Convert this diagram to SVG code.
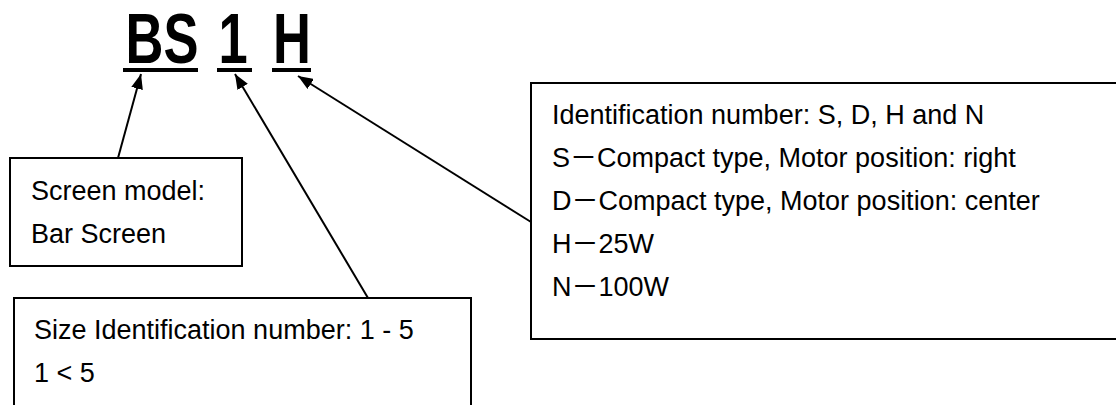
<svg xmlns="http://www.w3.org/2000/svg" width="1116" height="405" viewBox="0 0 1116 405">
<style>
  .box { fill: #ffffff; stroke: #000000; stroke-width: 2; }
  .lbl { font-family: "Liberation Sans", Arial, "Noto Sans CJK JP", sans-serif; font-size: 27px; fill: #000000; }
  .code { font-family: "Liberation Sans", Arial, sans-serif; font-size: 70px; font-weight: bold; fill: #000000; text-anchor: middle; }
  .uline { fill: #000000; }
  .conn { stroke: #000000; stroke-width: 2; fill: none; marker-end: url(#arrow); }
</style>
<defs>
  <marker id="arrow" viewBox="0 0 15 12" refX="15" refY="6" markerWidth="15" markerHeight="12" markerUnits="userSpaceOnUse" orient="auto">
    <path d="M0,0 L15,6 L0,12 z" fill="#000000"/>
  </marker>
</defs>
<rect width="1116" height="405" fill="#ffffff"/>

<g id="code-bs">
  <text class="code" transform="translate(162,63) scale(0.75,1)">BS</text>
  <rect class="uline" x="123" y="68" width="75" height="4"/>
</g>
<g id="code-1">
  <text class="code" transform="translate(233,63) scale(0.75,1)">1</text>
  <rect class="uline" x="217" y="68" width="35" height="4"/>
</g>
<g id="code-h">
  <text class="code" transform="translate(292,63) scale(0.75,1)">H</text>
  <rect class="uline" x="272" y="68" width="39" height="4"/>
</g>

<g id="node-screen-model">
  <rect class="box" x="10" y="158" width="232" height="108"/>
  <text class="lbl" x="31" y="200">Screen model:</text>
  <text class="lbl" x="31" y="243">Bar Screen</text>
</g>

<g id="node-size">
  <rect class="box" x="14" y="298" width="457" height="120"/>
  <text class="lbl" x="34" y="339">Size Identification number: 1 - 5</text>
  <text class="lbl" x="34" y="382">1 &lt; 5</text>
</g>

<g id="node-ident">
  <rect class="box" x="531" y="83" width="600" height="256"/>
  <text class="lbl" x="552" y="124">Identification number: S, D, H and N</text>
  <text class="lbl" x="552" y="167">S－Compact type, Motor position: right</text>
  <text class="lbl" x="552" y="210">D－Compact type, Motor position: center</text>
  <text class="lbl" x="552" y="253">H－25W</text>
  <text class="lbl" x="552" y="296">N－100W</text>
</g>

<g id="connectors">
  <line class="conn" x1="118" y1="158" x2="141" y2="74"/>
  <line class="conn" x1="368" y1="298" x2="235" y2="74"/>
  <line class="conn" x1="531" y1="222" x2="298" y2="76"/>
</g>
</svg>
